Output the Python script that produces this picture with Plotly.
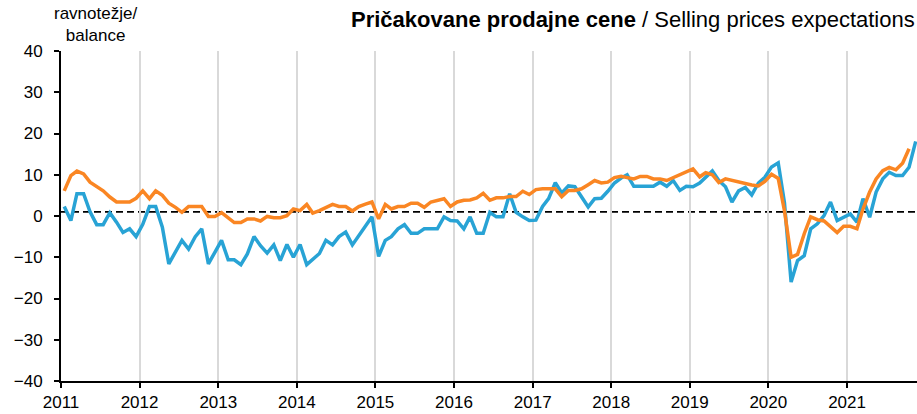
import pandas as pd
import plotly.graph_objects as go

# monthly balances, Jan 2011 onwards
slovenia = [
    2.3, -1.1, 5.4, 5.4, 1.0, -2.1, -2.1, 0.8, -1.5, -4.0, -3.1, -5.0,
    -2.0, 2.3, 2.3, -2.7, -11.6, -8.8, -5.9, -8.0, -5.0, -3.1, -11.6, -8.8,
    -5.9, -10.6, -10.6, -11.8, -9.2, -5.0, -7.2, -9.0, -7.0, -10.8, -6.9, -10.0,
    -6.9, -11.8, -10.6, -9.1, -5.9, -7.0, -5.0, -3.9, -7.0, -4.8, -2.7, -0.2,
    -9.8, -5.9, -5.0, -3.1, -2.1, -4.2, -4.2, -3.1, -3.1, -3.1, -0.2, -1.1,
    -1.2, -3.1, -0.2, -4.2, -4.2, 0.9, -0.2, -0.2, 5.4, 0.9, -0.2, -1.1,
    -1.0, 2.3, 4.2, 8.1, 5.6, 7.3, 7.1, 4.8, 2.2, 4.2, 4.3, 6.0,
    8.0, 9.2, 10.0, 7.2, 7.2, 7.2, 7.2, 8.2, 7.2, 8.6, 6.2, 7.2,
    7.1, 8.0, 9.3, 10.9, 8.6, 7.1, 3.4, 6.1, 6.9, 5.1, 8.0, 9.4,
    11.9, 12.9, 3.2, -16.0, -10.8, -9.6, -3.1, -1.9, 0.1, 3.4, -1.1, -0.3,
    0.5, -1.5, 4.2, -0.3, 5.8, 9.0, 10.6, 9.8, 9.8, 11.8, 18.1,
]
euro_area = [
    6.1, 9.8, 10.9, 10.2, 8.2, 7.2, 6.1, 4.6, 3.4, 3.4, 3.4, 4.3,
    6.1, 4.2, 6.1, 5.0, 3.1, 2.1, 0.9, 2.3, 2.3, 2.3, -0.1, -0.1,
    0.8, -0.5, -1.6, -1.6, -0.7, -0.7, -1.2, -0.1, -0.4, -0.4, 0.1, 1.7,
    1.3, 2.8, 0.7, 1.3, 2.1, 2.8, 2.3, 2.3, 1.2, 2.3, 2.9, 3.4,
    -0.7, 2.8, 1.7, 2.3, 2.3, 3.1, 3.1, 2.1, 3.4, 3.8, 4.2, 2.3,
    3.4, 3.8, 3.9, 4.4, 5.5, 3.8, 4.4, 4.4, 4.7, 4.7, 6.0, 5.2,
    6.4, 6.6, 6.6, 6.6, 4.7, 6.2, 6.2, 6.6, 7.6, 8.6, 8.0, 8.2,
    9.3, 9.6, 9.3, 9.0, 9.6, 9.6, 9.0, 9.0, 8.6, 9.3, 10.0, 10.6,
    11.4, 9.5, 10.5, 10.0, 8.1, 9.0, 8.6, 8.3, 7.8, 7.5, 7.3, 8.4,
    10.1, 9.1, 1.3, -10.0, -9.3, -4.3, -0.2, -0.9, -1.2, -2.5, -4.0, -2.5,
    -2.5, -3.1, 1.7, 5.8, 9.0, 11.0, 11.8, 11.2, 12.8, 16.3,
]
ref_level = 1

# points sit in the middle of each month
months = pd.date_range("2011-01-01", periods=len(slovenia), freq="MS") + pd.Timedelta(days=15)

BLUE = "#28A3D5"
ORANGE = "#FA8623"
FONT = "Liberation Sans, Arial, sans-serif"

fig = go.Figure()
fig.add_trace(go.Scatter(
    x=months, y=slovenia, mode="lines",
    line=dict(color=BLUE, width=3.5), showlegend=False,
))
fig.add_trace(go.Scatter(
    x=months[:len(euro_area)], y=euro_area, mode="lines",
    line=dict(color=ORANGE, width=3.5), showlegend=False,
))
fig.add_hline(y=ref_level, line=dict(color="black", width=1.8, dash="7px,4px"), layer="below")

fig.add_annotation(
    text="<b>Pričakovane prodajne cene</b> / Selling prices expectations",
    xref="paper", yref="paper", x=1.0, y=1.094, xanchor="right", yanchor="middle",
    showarrow=False, font=dict(size=22, color="black", family=FONT),
)
fig.add_annotation(
    text="ravnotežje/<br>balance",
    xref="paper", yref="paper", x=0.04, y=1.08, xanchor="center", yanchor="middle",
    showarrow=False, font=dict(size=17, color="black", family=FONT),
)

fig.update_layout(
    width=917, height=414,
    margin=dict(t=51, b=33, l=61, r=0, autoexpand=False),
    paper_bgcolor="white", plot_bgcolor="white",
    font=dict(family=FONT, size=17, color="black"),
    xaxis=dict(
        type="date", range=["2011-01-01", "2021-11-22"],
        dtick="M12", tick0="2011-01-01", tickformat="%Y",
        showgrid=True, gridcolor="#D9D9D9", gridwidth=2,
        showline=True, linecolor="black", linewidth=2,
        ticks="outside", ticklen=5, tickwidth=1.5, tickcolor="black",
        zeroline=False,
    ),
    yaxis=dict(
        range=[-40, 40], dtick=10, showgrid=False, zeroline=False,
        showline=True, linecolor="black", linewidth=2,
        ticks="outside", ticklen=5, tickwidth=1.5, tickcolor="black",
        ticklabelstandoff=8,
    ),
)

# drop the default page margin so the figure fills the window
fig.write_html(
    "out.html",
    config={"displayModeBar": False},
    post_script="document.body.style.margin='0';",
)
